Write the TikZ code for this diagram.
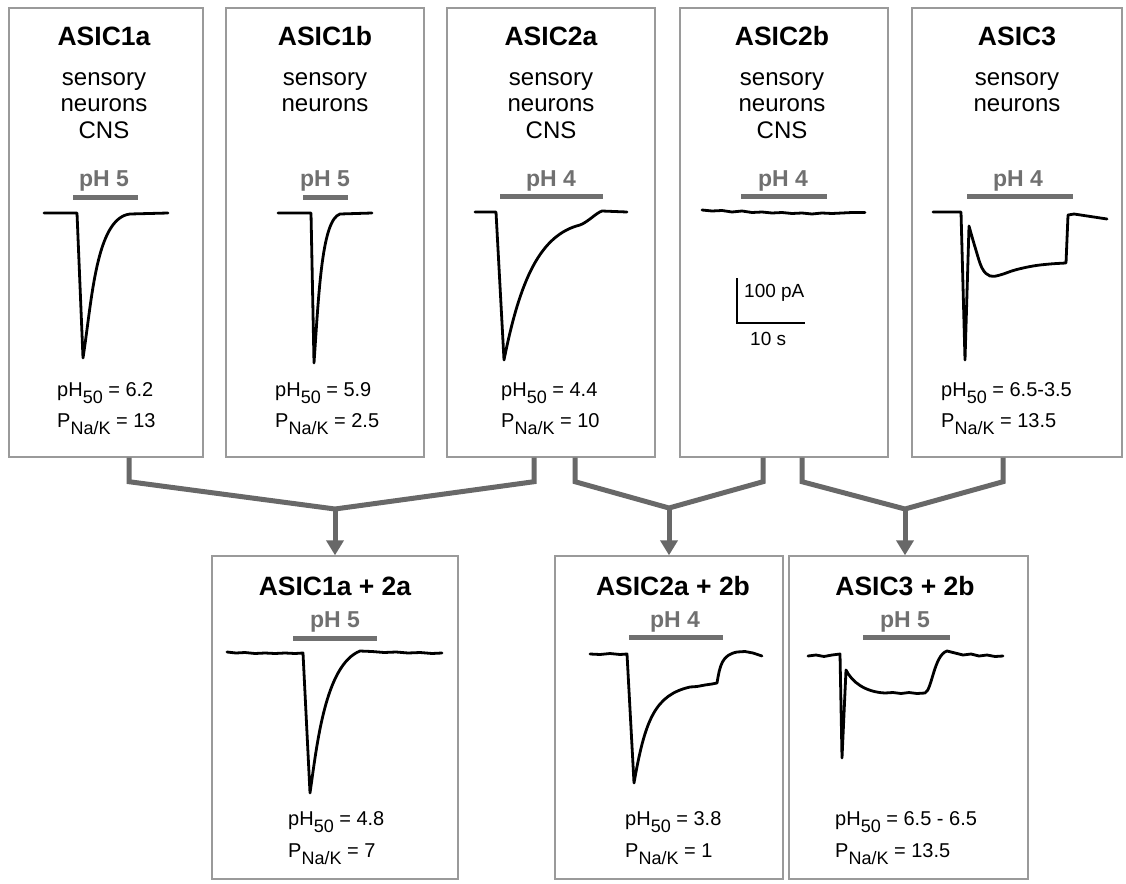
\documentclass[tikz,border=0pt]{standalone}
\usepackage{fontspec}
\setmainfont{Liberation Sans}
\usetikzlibrary{positioning,arrows.meta}
\definecolor{framegray}{HTML}{9A9A9A}
\definecolor{linkgray}{HTML}{686868}
\definecolor{phgray}{HTML}{707070}
\newcommand{\lowsub}[1]{\raisebox{-7pt}{\fontsize{18}{18}\selectfont #1}}

\begin{document}
\begin{tikzpicture}[x=1pt,y=-1pt,
  panel/.style={draw=framegray,line width=1.4pt,inner sep=0pt},
  cellname/.style={font=\fontsize{26.5}{28}\selectfont\bfseries,anchor=base,inner sep=0pt},
  tissue/.style={font=\fontsize{24}{26.5}\selectfont,align=center,anchor=base,inner sep=0pt},
  phtag/.style={font=\fontsize{23}{25}\selectfont\bfseries,text=phgray,anchor=base,inner sep=0pt},
  stat/.style={font=\fontsize{20}{22}\selectfont,anchor=base west,inner sep=0pt},
  acidbar/.style={phgray,line width=5pt},
  current/.style={line width=2.8pt,line join=round,line cap=round},
  link/.style={linkgray,line width=5pt},
  headlink/.style={link,-{Triangle[width=17pt,length=15pt]}}]
  \fill[white](0,0)rectangle(1126,883);
  % single channels
  \node[panel,minimum width=194pt,minimum height=449pt](b1a)at(106,232.5){};
  \node[panel,minimum width=198pt,minimum height=449pt](b1b)at(325,232.5){};
  \node[panel,minimum width=208pt,minimum height=449pt](b2a)at(551,232.5){};
  \node[panel,minimum width=208pt,minimum height=449pt](b2b)at(784,232.5){};
  \node[panel,minimum width=210pt,minimum height=449pt](b3)at(1017,232.5){};
  \node[cellname](t1a)at(104,46){ASIC1a};
  \node[cellname](t1b)at(325,46){ASIC1b};
  \node[cellname](t2a)at(551,46){ASIC2a};
  \node[cellname](t2b)at(782,46){ASIC2b};
  \node[cellname](t3)at(1017,46){ASIC3};
  % base of a multi-line node = last line
  \node[tissue](s1a)at(104,138){sensory\\neurons\\CNS};
  \node[tissue](s1b)at(325,111.5){sensory\\neurons};
  \node[tissue](s2a)at(551,138){sensory\\neurons\\CNS};
  \node[tissue](s2b)at(782,138){sensory\\neurons\\CNS};
  \node[tissue](s3)at(1017,111.5){sensory\\neurons};
  \node[phtag](h1a)at(104,186){pH 5};
  \node[phtag](h1b)at(325,186){pH 5};
  \node[phtag](h2a)at(551,186){pH 4};
  \node[phtag](h2b)at(783,186){pH 4};
  \node[phtag](h3)at(1018,186){pH 4};
  \draw[acidbar](73,197)--(138,197);
  \draw[acidbar](303,197)--(348,197);
  \draw[acidbar](500,196)--(603,196);
  \draw[acidbar](741,196)--(827,196);
  \draw[acidbar](967,196)--(1073,196);
  \draw[current](44,213)--(77,213)--(83,358)
    ..controls(92,300)and(96,218)..(130,214)--(168,213);
  \draw[current](278,213)--(311,213)--(314,363)
    ..controls(319,290)and(322,220)..(340,214)--(372,213);
  \draw[current](475,212)--(496,212)--(504,360)
    ..controls(520,280)and(540,235)..(580,225)
    ..controls(588,222)and(596,213)..(602,211)--(627,212);
  \draw[current]plot coordinates{(702,210)(712,211)(722,210.5)(732,212)(742,211)(752,212.5)(762,212)
    (772,213)(782,212.5)(792,213.5)(802,213)(812,214)(822,213)(832,213.5)(842,213)(852,212.5)(865,212.5)};
  \draw[current](933,212)--(961,212)--(965,360)--(969,226)
    --plot[smooth,tension=.6]coordinates{(969,226)(975,247)(982,268)(990,276)(1000,275)
    (1015,270)(1033,266)(1050,264)(1066,263)}--(1068,215)--(1074,214)--(1107,219);
  % scale bar
  \coordinate(sb)at(737,323);
  \draw[line width=2pt](737,278)--(sb)--(805,323);
  \node[stat,font=\fontsize{19}{21}\selectfont](sa)at(744,297){100 pA};
  \node[stat,font=\fontsize{19}{21}\selectfont](st)at(750,345){10 s};
  \node[stat](p1a)at(57,396){pH\lowsub{50} = 6.2};
  \node[stat](k1a)at(57,427){P\lowsub{Na/K} = 13};
  \node[stat](p1b)at(275,396){pH\lowsub{50} = 5.9};
  \node[stat](k1b)at(275,427){P\lowsub{Na/K} = 2.5};
  \node[stat](p2a)at(501,396){pH\lowsub{50} = 4.4};
  \node[stat](k2a)at(501,427){P\lowsub{Na/K} = 10};
  \node[stat](p3)at(941,396){pH\lowsub{50} = 6.5-3.5};
  \node[stat](k3)at(941,427){P\lowsub{Na/K} = 13.5};
  % heteromers
  \node[panel,minimum width=246pt,minimum height=323pt](m1)at(335,717.5){};
  \node[panel,minimum width=228pt,minimum height=323pt](m2)at(669,717.5){};
  \node[panel,minimum width=239pt,minimum height=323pt](m3)at(908.5,717.5){};
  \node[cellname](u1)at(335,595){ASIC1a + 2a};
  \node[cellname](u2)at(673,595){ASIC2a + 2b};
  \node[cellname](u3)at(905,595){ASIC3 + 2b};
  \node[phtag](w1)at(335,627){pH 5};
  \node[phtag](w2)at(675,627){pH 4};
  \node[phtag](w3)at(905,627){pH 5};
  \draw[acidbar](293,638)--(377,638);
  \draw[acidbar](629,637)--(723,637);
  \draw[acidbar](863,637)--(950,637);
  \draw[current]plot coordinates{(227,652)(236,653)(245,652.5)(255,653.5)(265,653)(275,653.5)(285,653)(295,653.5)(303,653)}
    --(310,793)..controls(317,745)and(325,665)..(360,651)
    --plot coordinates{(372,651.5)(384,652.5)(396,652)(408,653)(420,652.5)(432,653.5)(442,653)};
  \draw[current]plot coordinates{(590,654)(600,654.5)(610,653.5)(620,654.5)(627,654)}
    --(634,783)..controls(645,720)and(655,695)..(690,687)
    --plot coordinates{(697,686.5)(705,685)(712,684)(717,683)}
    ..controls(720,665)and(722,655)..(737,652)--plot coordinates{(745,651.5)(753,653)(762,656)};
  \draw[current]plot coordinates{(808,656)(816,655)(824,656.5)(832,655)(840,654)}
    --(842,758)--(846,670)..controls(852,682)and(865,692)..(885,693)
    --plot coordinates{(893,692.5)(901,693.5)(909,692.5)(917,693.5)(925,693)}
    ..controls(932,690)and(934,655)..(947,651)
    --plot coordinates{(955,653)(963,655)(971,654)(979,656)(987,655)(995,656.5)(1003,656)};
  \node[stat](q1)at(288,825){pH\lowsub{50} = 4.8};
  \node[stat](r1)at(288,857){P\lowsub{Na/K} = 7};
  \node[stat](q2)at(625,825){pH\lowsub{50} = 3.8};
  \node[stat](r2)at(625,857){P\lowsub{Na/K} = 1};
  \node[stat](q3)at(835,825){pH\lowsub{50} = 6.5 - 6.5};
  \node[stat](r3)at(835,857){P\lowsub{Na/K} = 13.5};
  % connectors
  \coordinate(j1)at(335,509);
  \coordinate(j2)at(669,508);
  \coordinate(j3)at(905,509);
  \draw[link]([xshift=23pt]b1a.south)--([xshift=23pt,yshift=-24pt]b1a.south)--(j1)
    --([xshift=-17pt,yshift=-24pt]b2a.south)--([xshift=-17pt]b2a.south);
  \draw[link]([xshift=24pt]b2a.south)--([xshift=24pt,yshift=-24pt]b2a.south)--(j2)
    --([xshift=-21pt,yshift=-24pt]b2b.south)--([xshift=-21pt]b2b.south);
  \draw[link]([xshift=18pt]b2b.south)--([xshift=18pt,yshift=-24pt]b2b.south)--(j3)
    --([xshift=-14pt,yshift=-24pt]b3.south)--([xshift=-14pt]b3.south);
  \draw[headlink](j1)--(m1.north);
  \draw[headlink](j2)--(m2.north);
  \draw[headlink](j3)--(j3|-m3.north);
\end{tikzpicture}
\end{document}
